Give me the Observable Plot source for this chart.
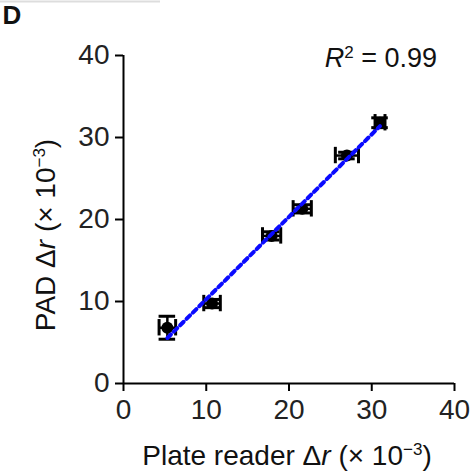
<!DOCTYPE html>
<html><head><meta charset="utf-8">
<script src="https://cdn.jsdelivr.net/npm/d3@7"></script>
<script src="https://cdn.jsdelivr.net/npm/@observablehq/plot@0.6"></script>
<style>
body{margin:0;background:#fff;}
svg{font-family:"Liberation Sans",Arial,sans-serif;}
</style></head>
<body><div id="chart"></div>
<script>
const plateReader = [5.3, 10.7, 17.9, 21.6, 27.0, 31.0];
const pad = [6.8, 9.75, 18.0, 21.3, 27.8, 31.8];
const xErr = [1.0, 1.0, 1.1, 1.1, 1.4, 0.6];
const yErr = [1.4, 0.5, 0.5, 0.5, 0.4, 0.6];
const ticks = [0, 10, 20, 30, 40];
const r2Label = "0.99";

const data = plateReader.map((x, i) => ({x, y: pad[i], xe: xErr[i], ye: yErr[i]}));
const cap = 1.0;

const svg = Plot.plot({
  width: 470, height: 474,
  marginLeft: 123, marginRight: 16, marginTop: 55, marginBottom: 91,
  style: {fontFamily: "'Liberation Sans', Arial, sans-serif", fontSize: "28px", color: "#000", background: "#fff"},
  x: {domain: [0, 40], ticks, label: null},
  y: {domain: [0, 40], ticks, label: null},
  marks: [
    Plot.axisX({ticks, tickSize: 8, tickPadding: 8, fontSize: 28, stroke: "#000", strokeWidth: 2}),
    Plot.axisY({ticks, tickSize: 8, tickPadding: 6, fontSize: 28, stroke: "#000", strokeWidth: 2}),
    Plot.ruleX([0], {stroke: "#000", strokeWidth: 2}),
    Plot.ruleY([0], {x1: 0, x2: 40, stroke: "#000", strokeWidth: 2}),
    // x error bars
    Plot.ruleY(data, {y: "y", x1: d => d.x - d.xe, x2: d => d.x + d.xe, stroke: "#000", strokeWidth: 2.5}),
    Plot.ruleX(data, {x: d => d.x - d.xe, y1: d => d.y - cap, y2: d => d.y + cap, stroke: "#000", strokeWidth: 3}),
    Plot.ruleX(data, {x: d => d.x + d.xe, y1: d => d.y - cap, y2: d => d.y + cap, stroke: "#000", strokeWidth: 3}),
    // y error bars
    Plot.ruleX(data, {x: "x", y1: d => d.y - d.ye, y2: d => d.y + d.ye, stroke: "#000", strokeWidth: 2.5}),
    Plot.ruleY(data, {y: d => d.y - d.ye, x1: d => d.x - cap, x2: d => d.x + cap, stroke: "#000", strokeWidth: 3}),
    Plot.ruleY(data, {y: d => d.y + d.ye, x1: d => d.x - cap, x2: d => d.x + cap, stroke: "#000", strokeWidth: 3}),
    Plot.dot(data, {x: "x", y: "y", r: 6, fill: "#000"}),
    Plot.linearRegressionY(data, {x: "x", y: "y", ci: 0, stroke: "#0a0aff", strokeWidth: 4, strokeDasharray: "5,4"})
  ]
});

const s = d3.select(svg);
s.selectAll("g[aria-label='x-axis tick label'] text, g[aria-label='y-axis tick label'] text").attr("fill", "#222");

// R² annotation
const r2 = s.append("text").attr("x", 437).attr("y", 67).attr("text-anchor", "end")
  .attr("font-size", 27).attr("fill", "#111");
r2.append("tspan").attr("font-style", "italic").text("R");
r2.append("tspan").attr("font-size", 17).attr("dy", -9).text("2");
r2.append("tspan").attr("dy", 9).text(" = " + r2Label);

// x-axis title
const xt = s.append("text").attr("x", 287).attr("y", 465).attr("text-anchor", "middle")
  .attr("font-size", 28).attr("fill", "#111");
xt.append("tspan").text("Plate reader Δ");
xt.append("tspan").attr("font-style", "italic").text("r");
xt.append("tspan").text(" (× 10");
xt.append("tspan").attr("font-size", 17).attr("dy", -10).text("−3");
xt.append("tspan").attr("dy", 10).text(")");

// y-axis title
const yt = s.append("text").attr("transform", "translate(55,235) rotate(-90)").attr("text-anchor", "middle")
  .attr("font-size", 28).attr("fill", "#111");
yt.append("tspan").text("PAD Δ");
yt.append("tspan").attr("font-style", "italic").text("r");
yt.append("tspan").text(" (× 10");
yt.append("tspan").attr("font-size", 17).attr("dy", -10).text("−3");
yt.append("tspan").attr("dy", 10).text(")");

// panel letter
s.append("text").attr("x", 12).attr("y", 24).attr("font-size", 26).attr("font-weight", "bold").attr("fill", "#111").text("D");
s.append("line").attr("x1", 0).attr("x2", 160).attr("y1", 1.5).attr("y2", 1.5).attr("stroke", "#ddd").attr("stroke-width", 2);

document.getElementById("chart").append(svg);
</script>
</body></html>
